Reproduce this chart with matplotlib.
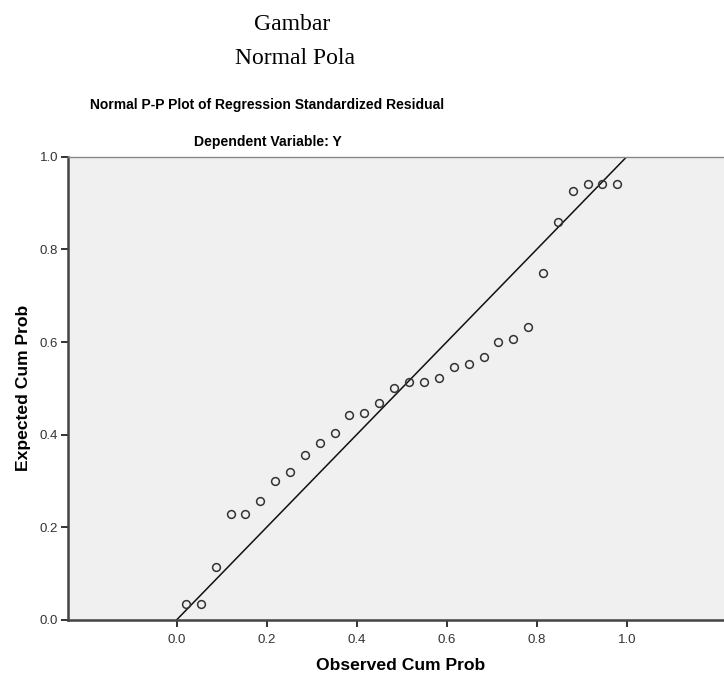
import matplotlib
matplotlib.use("Agg")
import matplotlib.pyplot as plt

# observed cumulative probability (x) and expected cumulative probability (y)
observed = [0.021, 0.054, 0.087, 0.120, 0.153, 0.186, 0.219, 0.252, 0.285, 0.318,
            0.351, 0.384, 0.417, 0.450, 0.483, 0.517, 0.550, 0.583, 0.616, 0.649,
            0.682, 0.715, 0.748, 0.781, 0.814, 0.847, 0.880, 0.913, 0.946, 0.979]
expected = [0.034, 0.034, 0.115, 0.228, 0.228, 0.257, 0.299, 0.320, 0.356, 0.383,
            0.403, 0.443, 0.447, 0.468, 0.501, 0.513, 0.513, 0.522, 0.546, 0.552,
            0.567, 0.600, 0.606, 0.632, 0.748, 0.858, 0.927, 0.942, 0.942, 0.942]
ticks = [0.0, 0.2, 0.4, 0.6, 0.8, 1.0]
tick_labels = ["0.0", "0.2", "0.4", "0.6", "0.8", "1.0"]

fig = plt.figure(figsize=(7.24, 6.75), dpi=100)
ax = fig.add_axes([68 / 724, 55 / 675, 1 - 68 / 724, 463.3 / 675])
ax.set_facecolor("#f0f0f0")

# reference line and points
ax.plot([0, 1.3], [0, 1.3], color="#111111", lw=1.1, zorder=2)
ax.plot(observed, expected, linestyle="none", marker="o", markersize=5.6,
        markerfacecolor="none", markeredgecolor="#333333", markeredgewidth=1.1, zorder=3)

ax.set_xlim(-0.241, 1.216)
ax.set_ylim(0, 1.0)
ax.set_xticks(ticks)
ax.set_xticklabels(tick_labels)
ax.set_yticks(ticks)
ax.set_yticklabels(tick_labels)
ax.tick_params(direction="out", length=5, width=1.4, color="#333333",
               labelsize=9.5, labelcolor="#333333", pad=2)
ax.tick_params(axis="x", pad=5)

for side in ["left", "bottom"]:
    ax.spines[side].set_color("#444444")
    ax.spines[side].set_linewidth(1.8)
ax.spines["top"].set_color("#888888")
ax.spines["top"].set_linewidth(1.0)
ax.spines["right"].set_visible(False)

ax.set_xlabel("Observed Cum Prob", fontsize=12.6, fontweight="bold",
              family="Liberation Sans")
ax.xaxis.set_label_coords(0.5076, -0.081)
ax.set_ylabel("Expected Cum Prob", fontsize=12.6, fontweight="bold",
              family="Liberation Sans", labelpad=6)
for lab in ax.get_xticklabels() + ax.get_yticklabels():
    lab.set_family("Liberation Sans")

# titles
fig.text(292 / 724, 1 - 24 / 675, "Gambar", ha="center", va="center",
         family="Liberation Serif", fontsize=17)
fig.text(295 / 724, 1 - 58 / 675, "Normal Pola", ha="center", va="center",
         family="Liberation Serif", fontsize=17)
fig.text(267 / 724, 1 - 105 / 675, "Normal P-P Plot of Regression Standardized Residual",
         ha="center", va="center", family="Liberation Sans", fontweight="bold", fontsize=10)
fig.text(268 / 724, 1 - 142 / 675, "Dependent Variable: Y", ha="center", va="center",
         family="Liberation Sans", fontweight="bold", fontsize=10.1)

fig.savefig("out.png", dpi=100)
